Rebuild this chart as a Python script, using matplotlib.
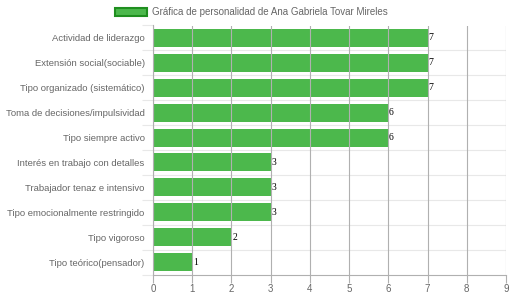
import matplotlib.pyplot as plt
from matplotlib.patches import Rectangle

# Data
categories = [
    'Actividad de liderazgo',
    'Extensión social(sociable)',
    'Tipo organizado (sistemático)',
    'Toma de decisiones/impulsividad',
    'Tipo siempre activo',
    'Interés en trabajo con detalles',
    'Trabajador tenaz e intensivo',
    'Tipo emocionalmente restringido',
    'Tipo vigoroso',
    'Tipo teórico(pensador)',
]
values = [7, 7, 7, 6, 6, 3, 3, 3, 2, 1]
x_ticks = list(range(0, 10))
legend_label = 'Gráfica de personalidad de Ana Gabriela Tovar Mireles'

bar_color = '#4cb84c'
edge_color = '#1f8f1f'
text_color = '#666666'

plt.rcParams['font.family'] = ['Liberation Sans', 'DejaVu Sans']

fig = plt.figure(figsize=(5.1, 2.97), dpi=100)
ax = fig.add_axes([153 / 510, 1 - 274.5 / 297, 353 / 510, 249 / 297])

ypos = list(range(len(categories)))
ax.barh(ypos, values, height=0.72, color=bar_color, zorder=1)

# value labels at the bar ends
for y, v in zip(ypos, values):
    ax.text(v + 0.02, y, str(v), va='center', ha='left', fontsize=7,
            family='Liberation Serif', color='black', zorder=3)

ax.set_xlim(0, 9)
ax.set_ylim(len(categories) - 0.5, -0.5)
ax.set_xticks(x_ticks)
ax.set_yticks(ypos)
ax.set_yticklabels(categories)

# vertical grid lines over the bars
for x in x_ticks:
    ax.axvline(x, color='#b0b0b0', lw=0.8, zorder=2)
# horizontal separators between categories
for y in range(1, len(categories)):
    ax.axhline(y - 0.5, color='#e8e8e8', lw=0.8, zorder=0)

for s in ['top', 'right']:
    ax.spines[s].set_visible(False)
ax.spines['left'].set_color('#b0b0b0')
ax.spines['bottom'].set_color('#b0b0b0')
ax.spines['left'].set_linewidth(0.8)
ax.spines['bottom'].set_linewidth(0.8)

ax.tick_params(axis='x', colors='#b0b0b0', labelcolor=text_color, labelsize=7,
               length=6, width=0.8, pad=1)
ax.tick_params(axis='y', length=0, labelcolor=text_color, labelsize=6.8, pad=6)
# y-tick marks sit on the category boundaries
ax.set_yticks([i - 0.5 for i in range(len(categories) + 1)], minor=True)
ax.tick_params(axis='y', which='minor', length=8, width=0.8, colors='#e8e8e8')

# legend at top
fig.patches.append(Rectangle((115 / 510, 1 - 16 / 297), 32 / 510, 8 / 297,
                             transform=fig.transFigure, facecolor=bar_color,
                             edgecolor=edge_color, lw=1.5))
fig.text(152 / 510, 1 - 12 / 297, legend_label, fontsize=7, color=text_color,
         va='center', ha='left')

fig.savefig('out.png', dpi=100)
